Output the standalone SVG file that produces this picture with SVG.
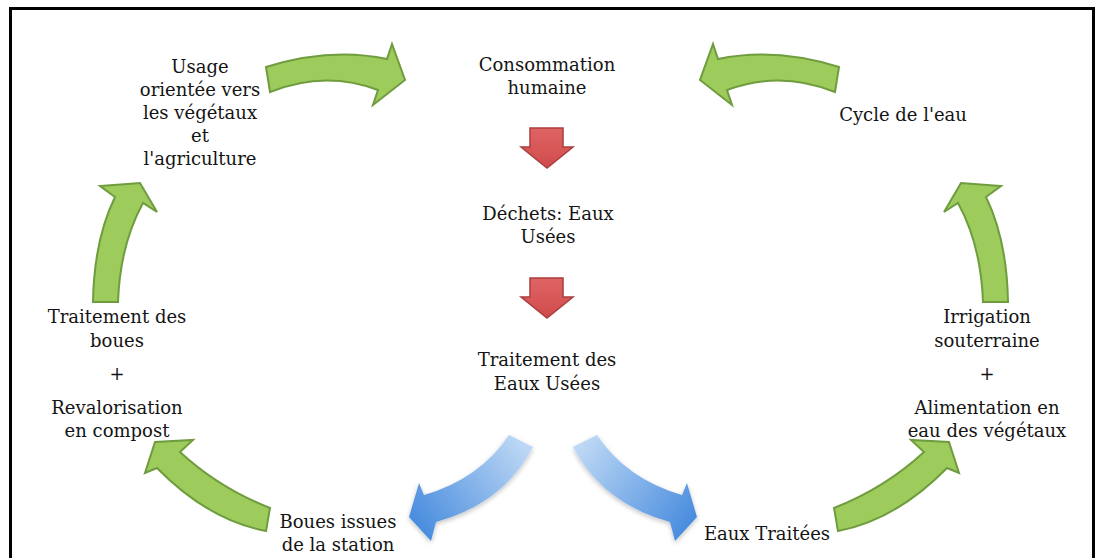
<svg xmlns="http://www.w3.org/2000/svg" width="1097" height="558" viewBox="0 0 1097 558">
<style>
.t{font-family:"DejaVu Serif","Liberation Serif",serif;font-size:18px;fill:#141414;text-anchor:middle}
.g{fill:#9DCB5C;stroke:#6F9C3E;stroke-width:2;stroke-linejoin:miter}
.r{fill:#D85757;stroke:#A93E3E;stroke-width:1.5}
.b{fill:url(#blueGrad);filter:url(#shadow)}
</style>
<defs>
<linearGradient id="blueGrad" gradientUnits="userSpaceOnUse" x1="585" y1="440" x2="692" y2="520">
<stop offset="0" stop-color="#BDD8F5"/>
<stop offset="1" stop-color="#4A8DDE"/>
</linearGradient>
<linearGradient id="redGrad" x1="0" y1="0" x2="0" y2="1">
<stop offset="0" stop-color="#E06464"/>
<stop offset="1" stop-color="#CF4B4B"/>
</linearGradient>
<filter id="shadow" x="-20%" y="-20%" width="140%" height="140%">
<feGaussianBlur in="SourceAlpha" stdDeviation="2.5"/>
<feOffset dx="0" dy="2" result="o"/>
<feComponentTransfer><feFuncA type="linear" slope="0.25"/></feComponentTransfer>
<feMerge><feMergeNode/><feMergeNode in="SourceGraphic"/></feMerge>
</filter>
</defs>
<rect x="0" y="0" width="1097" height="558" fill="#ffffff"/>
<rect x="10.5" y="8.5" width="1083" height="570" fill="none" stroke="#000" stroke-width="3"/>
<g id="connectors">
<path id="arrow-usage-conso" class="g" d="M266,67 Q330,47 387,59 L392,44 L405,80 L373,105 L378,90 Q325,70 270,92 Z"/>
<path id="arrow-cycle-conso" class="g" transform="matrix(-1,0,0,1,1105,0)" d="M266,67 Q330,47 387,59 L392,44 L405,80 L373,105 L378,90 Q325,70 270,92 Z"/>
<path id="arrow-traitboues-usage" class="g" d="M93,302 Q94,240 115,197 L100,186 L140,183 L157,212 L143,203 Q120,245 118,302 Z"/>
<path id="arrow-irrig-cycle" class="g" transform="matrix(-1,0,0,1,1101,0)" d="M93,302 Q94,240 115,197 L100,186 L140,183 L157,212 L143,203 Q120,245 118,302 Z"/>
<path id="arrow-boues-traitboues" class="g" d="M270,508 Q219,488 180,452 L193,440 L155,442 L145,473 L157,468 Q208,520 266,531 Z"/>
<path id="arrow-eaux-irrig" class="g" transform="matrix(-1,0,0,1,1104,0)" d="M270,508 Q219,488 180,452 L193,440 L155,442 L145,473 L157,468 Q208,520 266,531 Z"/>
<path id="arrow-conso-dechets" class="r" fill="url(#redGrad)" style="fill:url(#redGrad)" d="M530,128 L563,128 L563,147 L573,147 L547,168 L521,147 L530,147 Z"/>
<path id="arrow-dechets-trait" class="r" style="fill:url(#redGrad)" d="M530,278 L563,278 L563,297 L573,297 L547,318 L521,297 L530,297 Z"/>
<path id="arrow-trait-eaux" class="b" d="M597,435 Q626.5,479 682,495 L687,483 L697,517 L675,541 L670,522 Q602.5,503.5 573,447 Z"/>
<path id="arrow-trait-boues" class="b" transform="matrix(-1,0,0,1,1106,0)" d="M597,435 Q626.5,479 682,495 L687,483 L697,517 L675,541 L670,522 Q602.5,503.5 573,447 Z"/>
</g>
<g id="node-usage">
<text class="t" x="200" y="73">Usage</text>
<text class="t" x="200" y="96">orientée vers</text>
<text class="t" x="200" y="119">les végétaux</text>
<text class="t" x="200" y="142">et</text>
<text class="t" x="200" y="165">l'agriculture</text>
</g>
<g id="node-consommation">
<text class="t" x="547" y="71">Consommation</text>
<text class="t" x="547" y="94">humaine</text>
</g>
<g id="node-cycle">
<text class="t" x="903" y="121">Cycle de l'eau</text>
</g>
<g id="node-dechets">
<text class="t" x="548" y="220">Déchets: Eaux</text>
<text class="t" x="548" y="243">Usées</text>
</g>
<g id="node-traitement">
<text class="t" x="547" y="366">Traitement des</text>
<text class="t" x="547" y="390">Eaux Usées</text>
</g>
<g id="node-traitement-boues">
<text class="t" x="117" y="323">Traitement des</text>
<text class="t" x="117" y="347">boues</text>
<text class="t" x="117" y="380">+</text>
<text class="t" x="117" y="414">Revalorisation</text>
<text class="t" x="117" y="437">en compost</text>
</g>
<g id="node-irrigation">
<text class="t" x="987" y="323">Irrigation</text>
<text class="t" x="987" y="347">souterraine</text>
<text class="t" x="987" y="380">+</text>
<text class="t" x="987" y="414">Alimentation en</text>
<text class="t" x="987" y="437">eau des végétaux</text>
</g>
<g id="node-boues">
<text class="t" x="338" y="528">Boues issues</text>
<text class="t" x="338" y="551">de la station</text>
</g>
<g id="node-eaux-traitees">
<text class="t" x="767" y="540">Eaux Traitées</text>
</g>
</svg>
